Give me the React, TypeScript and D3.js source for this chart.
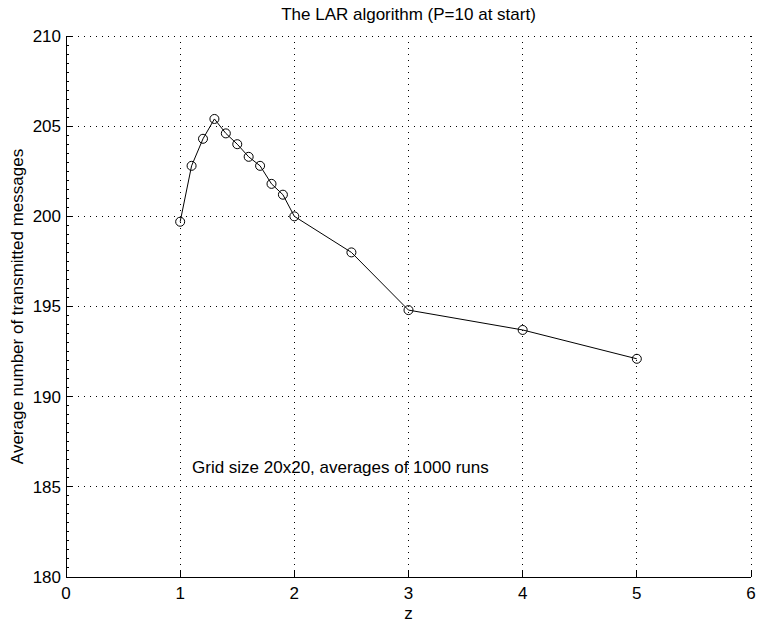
import React from "react";
import * as d3 from "d3";

const zValues = [1, 1.1, 1.2, 1.3, 1.4, 1.5, 1.6, 1.7, 1.8, 1.9, 2, 2.5, 3, 4, 5];
const avgMessages = [199.7, 202.8, 204.3, 205.4, 204.6, 204.0, 203.3, 202.8, 201.8, 201.2, 200.0, 198.0, 194.8, 193.7, 192.1];
const xTicks = [0, 1, 2, 3, 4, 5, 6];
const yTicks = [180, 185, 190, 195, 200, 205, 210];
const yMinorTicks = d3.range(180, 210.001, 0.5);

const title = "The LAR algorithm (P=10 at start)";
const xLabel = "z";
const yLabel = "Average number of transmitted messages";
const note = "Grid size 20x20, averages of 1000 runs";

export default function App() {
  const W = 757, H = 623;
  const left = 66, right = 751, top = 36, bottom = 577;
  const x = d3.scaleLinear().domain([0, 6]).range([left, right]);
  const y = d3.scaleLinear().domain([180, 210]).range([bottom, top]);
  const line = d3.line<number>().x((_, i) => x(zValues[i])).y((d) => y(d));
  const font = "'Liberation Sans', Arial, Helvetica, sans-serif";
  const fs = 17;
  return (
    <svg width={W} height={H} style={{ position: "absolute", left: 0, top: 0, background: "#fff" }} fontFamily={font}>
      <rect x={0} y={0} width={W} height={H} fill="#fff" />
      {/* grid */}
      {xTicks.slice(1).map((t) => (
        <line key={"gx" + t} x1={x(t)} x2={x(t)} y1={bottom} y2={top} stroke="#000" strokeWidth={1} strokeDasharray="1,5" shapeRendering="crispEdges" />
      ))}
      {yTicks.slice(1).map((t) => (
        <line key={"gy" + t} x1={left} x2={right} y1={y(t)} y2={y(t)} stroke="#000" strokeWidth={1} strokeDasharray="1,5" shapeRendering="crispEdges" />
      ))}
      {/* axes */}
      <line x1={left} x2={right} y1={bottom} y2={bottom} stroke="#000" strokeWidth={1} shapeRendering="crispEdges" />
      <line x1={left} x2={left} y1={bottom} y2={top} stroke="#000" strokeWidth={1} shapeRendering="crispEdges" />
      {yMinorTicks.map((t) => (
        <line key={"my" + t} x1={left} x2={left + 3} y1={y(t)} y2={y(t)} stroke="#000" strokeWidth={1} shapeRendering="crispEdges" />
      ))}
      {yTicks.map((t) => (
        <g key={"ty" + t}>
          <line x1={left} x2={left + 7} y1={y(t)} y2={y(t)} stroke="#000" strokeWidth={1} shapeRendering="crispEdges" />
          <text x={left - 5} y={y(t)} dy="0.35em" textAnchor="end" fontSize={fs}>{t}</text>
        </g>
      ))}
      {xTicks.map((t) => (
        <g key={"tx" + t}>
          <line x1={x(t)} x2={x(t)} y1={bottom} y2={bottom - 7} stroke="#000" strokeWidth={1} shapeRendering="crispEdges" />
          <text x={x(t)} y={bottom + 16} dy="0.35em" textAnchor="middle" fontSize={fs}>{t}</text>
        </g>
      ))}
      {/* data */}
      <path d={line(avgMessages) || ""} fill="none" stroke="#000" strokeWidth={1} />
      {avgMessages.map((v, i) => (
        <circle key={"c" + i} cx={x(zValues[i])} cy={y(v)} r={4.5} fill="none" stroke="#000" strokeWidth={1} />
      ))}
      {/* text */}
      <text x={(left + right) / 2} y={14} dy="0.35em" textAnchor="middle" fontSize={fs}>{title}</text>
      <text x={(left + right) / 2} y={613} dy="0.35em" textAnchor="middle" fontSize={fs}>{xLabel}</text>
      <text transform={`translate(17,${(top + bottom) / 2}) rotate(-90)`} dy="0.35em" textAnchor="middle" fontSize={fs}>{yLabel}</text>
      <text x={192} y={467} dy="0.35em" fontSize={fs}>{note}</text>
    </svg>
  );
}
